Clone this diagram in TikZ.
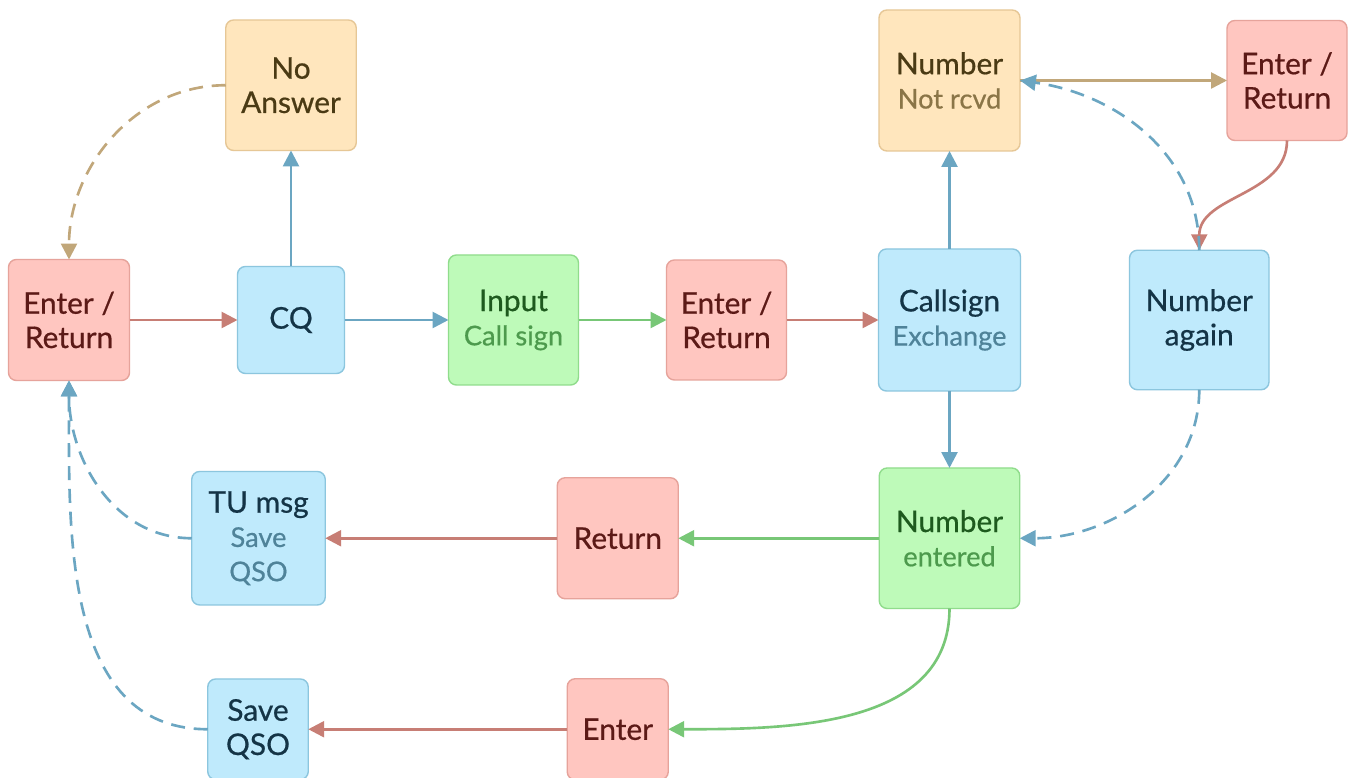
\documentclass[tikz,border=0pt]{standalone}
\usepackage{fontspec}
\setmainfont{Lato}[FakeBold=0.6]
\usetikzlibrary{
    positioning, % posicionamento relativo (right=of, below=of)
    arrows.meta  % pontas de seta (Triangle)
}

% --- Cores das caixas, textos e setas ---
\definecolor{redfill}{HTML}{FFC6C0}
\definecolor{redline}{HTML}{E6A39B}
\definecolor{redtext}{HTML}{5C1A17}
\definecolor{redarrow}{HTML}{C77E75}
\definecolor{bluefill}{HTML}{BFEAFC}
\definecolor{blueline}{HTML}{8CC6DE}
\definecolor{bluetext}{HTML}{143446}
\definecolor{bluesub}{HTML}{4F8399}
\definecolor{bluearrow}{HTML}{6BA6C2}
\definecolor{greenfill}{HTML}{BEFAB9}
\definecolor{greenline}{HTML}{90DC8C}
\definecolor{greentext}{HTML}{1E5A1E}
\definecolor{greensub}{HTML}{4D9A4D}
\definecolor{greenarrow}{HTML}{78C777}
\definecolor{orangefill}{HTML}{FFE6BD}
\definecolor{orangeline}{HTML}{E6C796}
\definecolor{orangetext}{HTML}{4A3A14}
\definecolor{orangesub}{HTML}{8A7547}
\definecolor{orangearrow}{HTML}{C1A77A}

% Segunda linha (mais clara) dentro das caixas
\newcommand{\legenda}[2]{{\fontsize{15.5}{18}\selectfont\color{#1}#2}}

\begin{document}
\begin{tikzpicture}

    % --- Definição de Estilos ---
    \tikzset{
        % Caixa genérica (quadrada, lado = #1)
        caixa/.style={
            draw,
            line width=0.8pt,
            rounded corners=4.5pt,
            minimum width=#1,
            minimum height=#1,
            inner sep=2pt,
            outer sep=0pt,
            align=center,
            font=\fontsize{17}{19.5}\selectfont
        },
        % Teclas (Enter / Return) em vermelho
        tecla/.style={caixa=#1, fill=redfill, draw=redline, text=redtext},
        % Estados do QSO em azul
        estado/.style={caixa=#1, fill=bluefill, draw=blueline, text=bluetext},
        % Entradas do operador em verde
        entrada/.style={caixa=#1, fill=greenfill, draw=greenline, text=greentext},
        % Situações de falha em laranja
        aviso/.style={caixa=#1, fill=orangefill, draw=orangeline, text=orangetext},
        % Setas (a ponta é preenchida com a cor do traço)
        seta/.style={
            -{Triangle[length=9pt, width=9pt]},
            line width=1.5pt
        },
        seta_vermelha/.style={seta, draw=redarrow},
        seta_azul/.style={seta, draw=bluearrow},
        seta_verde/.style={seta, draw=greenarrow},
        seta_laranja/.style={seta, draw=orangearrow},
        tracejada/.style={dash pattern=on 8pt off 5pt}
    }

    % Fundo branco (fixa as margens)
    \fill[white] (0,0) rectangle (27.1,15.56);
    \useasboundingbox (0,0) rectangle (27.1,15.56);

    % --- Criação dos Nós ---

    % Linha do meio: CQ -> Input -> Callsign
    \node[tecla=2.42cm] (enter_cq) at (1.38,9.16) {Enter /\\Return};
    \node[estado=2.14cm, right=2.16cm of enter_cq] (cq) {CQ};
    \node[entrada=2.60cm, right=2.08cm of cq] (input) {Input\\\legenda{greensub}{Call sign}};
    \node[tecla=2.40cm, right=1.76cm of input] (enter_call) {Enter /\\Return};
    \node[estado=2.84cm, right=1.84cm of enter_call] (callsign) {Callsign\\\legenda{bluesub}{Exchange}};
    \node[estado=2.79cm, right=2.18cm of callsign] (number_again) {Number\\again};

    % Linha de cima: sem resposta / número não recebido
    \node[aviso=2.61cm, above=2.32cm of cq] (no_answer) {No\\Answer};
    \node[aviso=2.82cm, above=1.96cm of callsign] (not_rcvd) {Number\\\legenda{orangesub}{Not rcvd}};
    \node[tecla=2.40cm, right=4.14cm of not_rcvd] (enter_again) {Enter /\\Return};

    % Linhas de baixo: fim do QSO
    \node[entrada=2.81cm, below=1.54cm of callsign] (number_entered) {Number\\\legenda{greensub}{entered}};
    \node[tecla=2.42cm, left=4.02cm of number_entered] (return) {Return};
    \node[estado=2.67cm, left=4.64cm of return] (tu_msg) {TU msg\\\legenda{bluesub}{Save}\\\legenda{bluesub}{QSO}};
    \node[tecla=2.02cm, below=1.6cm of return] (enter_save) {Enter};
    \node[estado=2.01cm, left=5.18cm of enter_save] (save_qso) {Save\\QSO};

    % --- Desenhando as Setas ---

    % Fluxo principal
    \draw[seta_vermelha] (enter_cq.east) -- (cq.west);
    \draw[seta_azul] (cq.north) -- (no_answer.south);
    \draw[seta_azul] (cq.east) -- (input.west);
    \draw[seta_verde] (input.east) -- (enter_call.west);
    \draw[seta_vermelha] (enter_call.east) -- (callsign.west);
    \draw[seta_azul] (callsign.north) -- (not_rcvd.south);
    \draw[seta_azul] (callsign.south) -- (number_entered.north);

    % Pedido de repetição do número
    \draw[seta_laranja] (not_rcvd.east) -- (not_rcvd.east -| enter_again.west);
    \draw[seta_vermelha] (enter_again.south) to[out=-90, in=90] (number_again.north);
    \draw[seta_azul, tracejada] (number_again.north) to[out=90, in=-8] (not_rcvd.east);
    \draw[seta_azul, tracejada] (number_again.south) to[out=-90, in=0] (number_entered.east);

    % Fim do QSO
    \draw[seta_verde] (number_entered.west) -- (return.east);
    \draw[seta_vermelha] (return.west) -- (tu_msg.east);
    \draw[seta_verde] (number_entered.south) to[out=-90, in=0] (enter_save.east);
    \draw[seta_vermelha] (enter_save.west) -- (save_qso.east);

    % Retornos tracejados para o início
    \draw[seta_azul, tracejada] (tu_msg.west) to[out=180, in=-90] (enter_cq.south);
    \draw[seta_azul, tracejada] (save_qso.west) to[out=180, in=-90] (enter_cq.south);
    \draw[seta_laranja, tracejada] (no_answer.west) to[out=180, in=90] (enter_cq.north);

\end{tikzpicture}
\end{document}
